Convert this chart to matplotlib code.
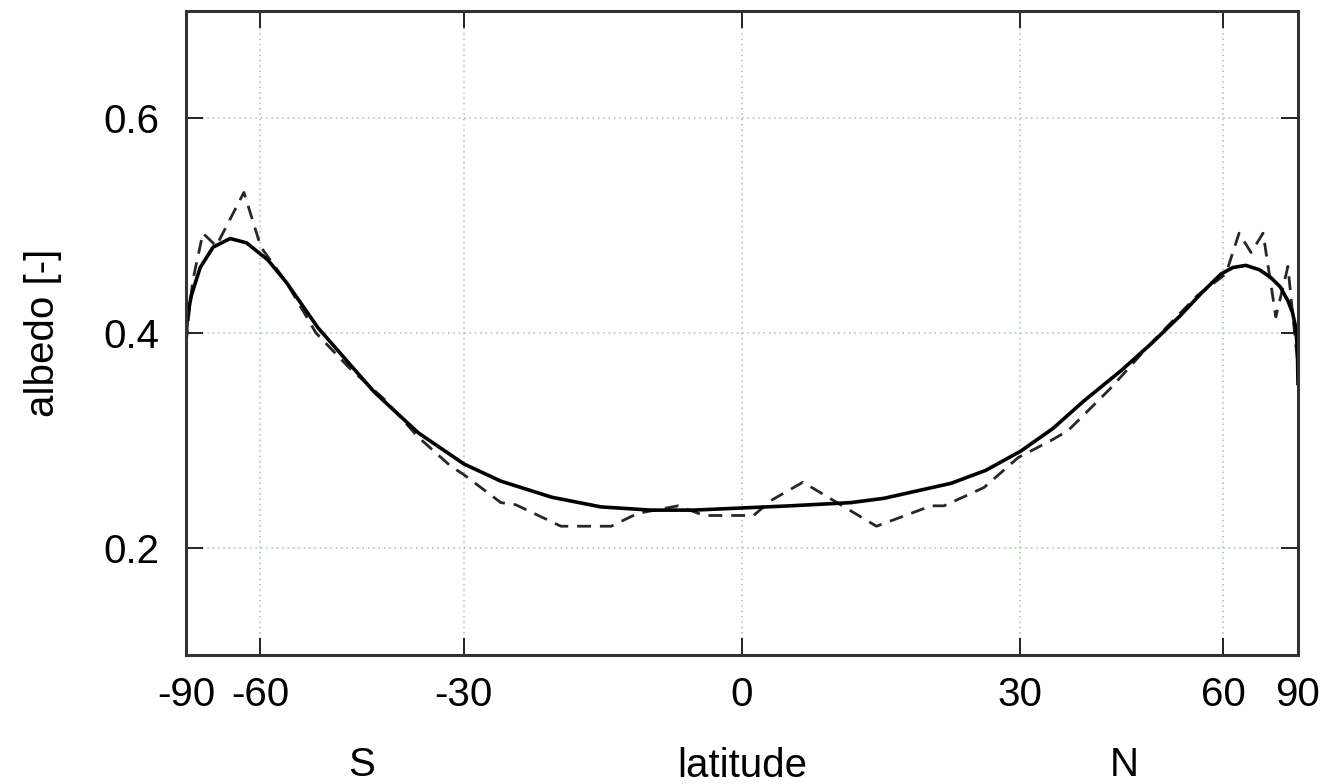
"""
Zonal mean albedo vs latitude (sine-of-latitude axis)
"""

import matplotlib
matplotlib.use("Agg")
import matplotlib.pyplot as plt
import numpy as np

plt.rcParams['font.family'] = ['Liberation Sans', 'DejaVu Sans']

# smooth fit (solid)
fit_lat = [-90, -86, -82, -77, -72, -67, -63, -58.5, -55, -49.7, -45, -41.4,
           -35.6, -30, -25.7, -20, -14.7, -9.4, -5, 0, 5, 11.3, 14.8, 22.1,
           26, 30.1, 34, 38, 43, 47.4, 52, 55.7, 59.5, 62, 65, 68.5, 71.9,
           75.5, 79.1, 82, 84.9, 87.5, 90]
fit_alb = [0.390, 0.415, 0.435, 0.461, 0.480, 0.488, 0.484, 0.468, 0.447,
           0.405, 0.372, 0.345, 0.307, 0.278, 0.262, 0.247, 0.238, 0.235,
           0.235, 0.237, 0.239, 0.242, 0.246, 0.260, 0.272, 0.290, 0.311,
           0.337, 0.365, 0.390, 0.416, 0.437, 0.455, 0.461, 0.463, 0.459,
           0.452, 0.443, 0.430, 0.419, 0.405, 0.385, 0.353]

# observed zonal means (dashed)
obs_lat = [-90, -85, -81, -75.8, -71, -63.6, -59.9, -55, -50, -45, -40,
           -35.6, -31.6, -30, -25.7, -24, -19, -13.6, -10.8, -6.6, -3.9,
           1.2, 3, 6.3, 14, 19.9, 21.3, 25.8, 29.8, 33.8, 35.9, 41.6, 47,
           55, 60.5, 63.4, 66.3, 69.6, 73.8, 79.1, 83.2, 90]
obs_alb = [0.390, 0.410, 0.449, 0.493, 0.481, 0.531, 0.480, 0.447, 0.400,
           0.368, 0.338, 0.303, 0.276, 0.268, 0.242, 0.240, 0.220, 0.220,
           0.232, 0.239, 0.230, 0.230, 0.244, 0.261, 0.220, 0.239, 0.239,
           0.256, 0.284, 0.300, 0.309, 0.349, 0.388, 0.435, 0.455, 0.493,
           0.475, 0.493, 0.415, 0.462, 0.405, 0.370]

xticks = [-90, -60, -30, 0, 30, 60, 90]
yticks = [0.2, 0.4, 0.6]


def fwd(x):
    return np.sin(np.deg2rad(np.clip(x, -90, 90)))


def inv(s):
    return np.rad2deg(np.arcsin(np.clip(s, -1, 1)))


fig = plt.figure(figsize=(13.3, 7.84), dpi=100)
ax = fig.add_axes([0.1398, 0.1645, 0.8361, 0.8215])
ax.set_xscale('function', functions=(fwd, inv))

ax.plot(obs_lat, obs_alb, color='#26262e', lw=2.0, dashes=(5, 3.2))
ax.plot(fit_lat, fit_alb, color='black', lw=2.6)

ax.set_xlim(-90, 90)
ax.set_ylim(0.1, 0.7)
ax.set_xticks(xticks)
ax.set_xticklabels([str(t) for t in xticks])
ax.set_yticks(yticks)
ax.set_yticklabels(['0.2', '0.4', '0.6'])
ax.xaxis.set_minor_locator(matplotlib.ticker.NullLocator())

ax.grid(True, color='#9cc69c', linestyle=(0, (1, 2.5)), lw=1.1)
ax.tick_params(direction='in', length=12, width=1.4, top=True, right=True,
               labelsize=29, color='#222222')
ax.tick_params(axis='x', pad=15)
ax.tick_params(axis='y', pad=19)
for sp in ax.spines.values():
    sp.set_linewidth(2.2)
    sp.set_color('#333333')

ax.set_ylabel('albedo [-]', fontsize=29, labelpad=30)
ax.set_xlabel('latitude', fontsize=29, labelpad=24)
ax.text(0.158, -0.171, 'S', transform=ax.transAxes, fontsize=29,
        ha='center', va='center')
ax.text(0.844, -0.171, 'N', transform=ax.transAxes, fontsize=29,
        ha='center', va='center')

plt.savefig('out.png', dpi=100)
